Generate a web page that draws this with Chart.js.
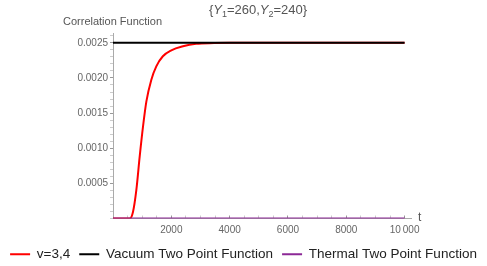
<!DOCTYPE html>
<html>
<head>
<meta charset="utf-8">
<script src="https://cdn.jsdelivr.net/npm/chart.js@4.4.1/dist/chart.umd.min.js"></script>
<style>
  html, body { margin: 0; padding: 0; background: #fff; }
  canvas { display: block; }
</style>
</head>
<body>
<canvas id="myChart" width="487" height="266"></canvas>
<script>
// values
const tRed = [0, 570, 685, 800, 915, 1030, 1145, 1315, 1485, 1710, 2000, 2400, 2850, 3470, 4000, 5000, 10000];
const redValues = [0, 0, 0.000094, 0.000404, 0.00088, 0.00131, 0.001666, 0.001976, 0.002166, 0.002309, 0.002394, 0.002451, 0.002486, 0.002497, 0.0025, 0.0025, 0.0025];
const tFlat = [0, 10000];
const vacuumValues = [0.0025, 0.0025];
const thermalValues = [0, 0];

const seriesNames = ['v=3,4', 'Vacuum Two Point Function', 'Thermal Two Point Function'];

const xMajorTicks = [2000, 4000, 6000, 8000, 10000];
const xTickLabels = ['2000', '4000', '6000', '8000', '10\u2009000'];
const yMajorTicks = [0.0005, 0.001, 0.0015, 0.002, 0.0025];
const yTickLabels = ['0.0005', '0.0010', '0.0015', '0.0020', '0.0025'];

const FONT = "'Liberation Sans', Arial, sans-serif";

function toPoints(xs, ys) {
    return xs.map((x, i) => ({ x: x, y: ys[i] }));
}

function majorIndex(list, value) {
    return list.findIndex(v => Math.abs(v - value) < 1e-9);
}

// minor ticks every 500 on x and every 0.0001 on y
const xMinor = [];
for (let i = 0; i <= 20; i++) xMinor.push(i * 500);
const yMinor = [];
for (let i = 0; i <= 26; i++) yMinor.push(i / 10000);

const textPlugin = {
    id: 'textPlugin',
    afterDraw(chart) {
        const ctx = chart.ctx;
        ctx.save();
        ctx.fillStyle = '#555';
        ctx.textBaseline = 'alphabetic';

        // y axis label
        ctx.font = '11px ' + FONT;
        ctx.textAlign = 'left';
        ctx.fillText('Correlation Function', 63, 25);

        // x axis label
        ctx.font = '12px ' + FONT;
        ctx.fillText('t', 418, 221);

        // title {Y1=260, Y2=240}
        const parts = [
            { t: '{', f: '13px ' + FONT, dy: 0 },
            { t: 'Y', f: 'italic 13px ' + FONT, dy: 0 },
            { t: '1', f: '9px ' + FONT, dy: 3 },
            { t: '=260,', f: '13px ' + FONT, dy: 0 },
            { t: 'Y', f: 'italic 13px ' + FONT, dy: 0 },
            { t: '2', f: '9px ' + FONT, dy: 3 },
            { t: '=240}', f: '13px ' + FONT, dy: 0 }
        ];
        let total = 0;
        parts.forEach(p => { ctx.font = p.f; p.w = ctx.measureText(p.t).width; total += p.w; });
        let x = 258 - total / 2;
        parts.forEach(p => {
            ctx.font = p.f;
            ctx.fillText(p.t, x, 14 + p.dy);
            x += p.w;
        });
        ctx.restore();
    }
};

const data = {
    datasets: [{
        label: seriesNames[0],
        data: toPoints(tRed, redValues),
        borderColor: 'rgb(255, 0, 0)',
        backgroundColor: 'rgb(255, 0, 0)',
        borderWidth: 2,
        pointRadius: 0,
        cubicInterpolationMode: 'monotone',
        order: 2
    }, {
        label: seriesNames[1],
        data: toPoints(tFlat, vacuumValues),
        borderColor: 'rgb(0, 0, 0)',
        backgroundColor: 'rgb(0, 0, 0)',
        borderWidth: 2,
        pointRadius: 0,
        order: 1
    }, {
        label: seriesNames[2],
        data: toPoints(tFlat, thermalValues),
        borderColor: 'rgb(140, 40, 150)',
        backgroundColor: 'rgb(140, 40, 150)',
        borderWidth: 2,
        pointRadius: 0,
        order: 0
    }]
};

const config = {
    type: 'line',
    data: data,
    options: {
        responsive: false,
        animation: false,
        layout: {
            padding: { top: 33, right: 0, left: 0, bottom: -5 }
        },
        plugins: {
            title: { display: false },
            tooltip: { enabled: false },
            legend: {
                position: 'bottom',
                labels: {
                    usePointStyle: true,
                    pointStyle: 'line',
                    pointStyleWidth: 20,
                    padding: 9,
                    color: '#222',
                    font: { family: FONT, size: 13.5 },
                    sort: (a, b) => a.datasetIndex - b.datasetIndex
                }
            }
        },
        scales: {
            x: {
                type: 'linear',
                min: 0,
                max: 10220,
                afterBuildTicks: s => { s.ticks = xMinor.map(v => ({ value: v })); },
                afterFit: s => { s.height = 20; },
                border: { color: '#aaa', width: 1 },
                grid: {
                    drawOnChartArea: false,
                    tickLength: -3,
                    tickColor: ctx => majorIndex(xMajorTicks, ctx.tick.value) >= 0 ? '#999' : '#ccc'
                },
                ticks: {
                    autoSkip: false,
                    maxRotation: 0,
                    padding: 9,
                    color: '#666',
                    font: { family: FONT, size: 10 },
                    callback: value => {
                        const i = majorIndex(xMajorTicks, value);
                        return i >= 0 ? xTickLabels[i] : '';
                    }
                }
            },
            y: {
                type: 'linear',
                min: 0,
                max: 0.00264,
                afterBuildTicks: s => { s.ticks = yMinor.map(v => ({ value: v })); },
                afterFit: s => { s.width = 113; },
                border: { color: '#aaa', width: 1 },
                grid: {
                    drawOnChartArea: false,
                    tickLength: 3,
                    tickColor: ctx => majorIndex(yMajorTicks, ctx.tick.value) >= 0 ? '#999' : '#ccc'
                },
                ticks: {
                    autoSkip: false,
                    padding: 2,
                    color: '#666',
                    font: { family: FONT, size: 10 },
                    callback: value => {
                        const i = majorIndex(yMajorTicks, value);
                        return i >= 0 ? yTickLabels[i] : '';
                    }
                }
            },
            // empty right axis, only reserves the space right of the plot
            yRight: {
                type: 'linear',
                position: 'right',
                min: 0,
                max: 1,
                afterFit: s => { s.width = 76; },
                border: { display: false },
                grid: { display: false, drawTicks: false },
                ticks: { display: false }
            }
        }
    },
    plugins: [textPlugin]
};

const myChart = new Chart(document.getElementById('myChart'), config);
</script>
</body>
</html>
